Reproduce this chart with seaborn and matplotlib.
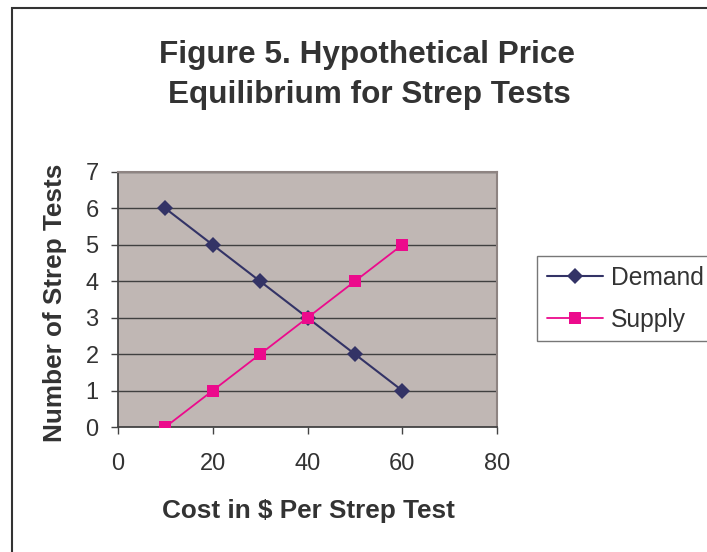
import matplotlib
matplotlib.use("Agg")
import matplotlib.pyplot as plt
from matplotlib.patches import Rectangle
import seaborn as sns
import pandas as pd

# ---- data ----
cost = [10, 20, 30, 40, 50, 60]
demand = [6, 5, 4, 3, 2, 1]
supply = [0, 1, 2, 3, 4, 5]
x_ticks = [0, 20, 40, 60, 80]
y_ticks = [0, 1, 2, 3, 4, 5, 6, 7]
title_lines = ["Figure 5. Hypothetical Price", "Equilibrium for Strep Tests"]
x_label = "Cost in $ Per Strep Test"
y_label = "Number of Strep Tests"

sns.set_theme(style="white")
plt.rcParams["font.family"] = ["Liberation Sans", "DejaVu Sans"]

TXT = "#333333"
W, H = 707, 552
fig = plt.figure(figsize=(W / 100, H / 100), dpi=100)
ax = fig.add_axes([118 / W, 1 - 427 / H, (497 - 118) / W, (427 - 172) / H])
ax.set_facecolor("#C0B7B4")

df_d = pd.DataFrame({"cost": cost, "n": demand})
df_s = pd.DataFrame({"cost": cost, "n": supply})
sns.lineplot(data=df_d, x="cost", y="n", ax=ax, color="#333366", marker="D",
             markersize=8, markeredgewidth=0, linewidth=1.5, label="Demand", zorder=3)
sns.lineplot(data=df_s, x="cost", y="n", ax=ax, color="#EC0A8C", marker="s",
             markersize=8, markeredgewidth=0, linewidth=1.3, label="Supply", zorder=3)

ax.set_xlim(0, 80)
ax.set_ylim(0, 7)
ax.set_xticks(x_ticks)
ax.set_yticks(y_ticks)
ax.set_xlabel("")
ax.set_ylabel("")
ax.tick_params(axis="both", which="major", direction="out", length=5, width=1,
               color="#444444", labelsize=17, labelcolor=TXT, left=True, bottom=True)
ax.tick_params(axis="x", pad=14)
ax.tick_params(axis="y", pad=9)
ax.grid(axis="y", color="#404040", linewidth=1)
ax.grid(axis="x", visible=False)
for side in ["left", "bottom"]:
    ax.spines[side].set_color("#444444")
    ax.spines[side].set_linewidth(1.3)
for side in ["top", "right"]:
    ax.spines[side].set_color("#8E8482")
    ax.spines[side].set_linewidth(1.5)

handles, labels = ax.get_legend_handles_labels()
if ax.get_legend() is not None:
    ax.get_legend().remove()
leg = fig.legend(handles, labels, loc="upper left",
                 bbox_to_anchor=(537 / W, 1 - 256 / H), bbox_transform=fig.transFigure,
                 fontsize=17.7, frameon=True, fancybox=False, handlelength=2.3,
                 handletextpad=0.3, labelspacing=0.72, borderpad=0.4, borderaxespad=0)
leg.get_frame().set_edgecolor("#555555")
leg.get_frame().set_linewidth(1.0)
for t in leg.get_texts():
    t.set_color(TXT)

fig.text(367 / W, 1 - 62.7 / H, title_lines[0], ha="center", va="baseline",
         fontsize=22.7, fontweight="bold", color=TXT)
fig.text(369 / W, 1 - 103 / H, title_lines[1], ha="center", va="baseline",
         fontsize=22.7, fontweight="bold", color=TXT)
fig.text(308 / W, 1 - 518 / H, x_label, ha="center", va="baseline",
         fontsize=18.8, fontweight="bold", color=TXT)
fig.text(55 / W, 1 - 303 / H, y_label, ha="center", va="center", rotation=90,
         fontsize=18.8, fontweight="bold", color=TXT)

fig.patches.append(Rectangle((12.3 / W, -0.2), 2, 1.2 - 8.3 / H, transform=fig.transFigure,
                             fill=False, edgecolor="#333333", linewidth=1.5))

fig.savefig("out.png", dpi=100)
